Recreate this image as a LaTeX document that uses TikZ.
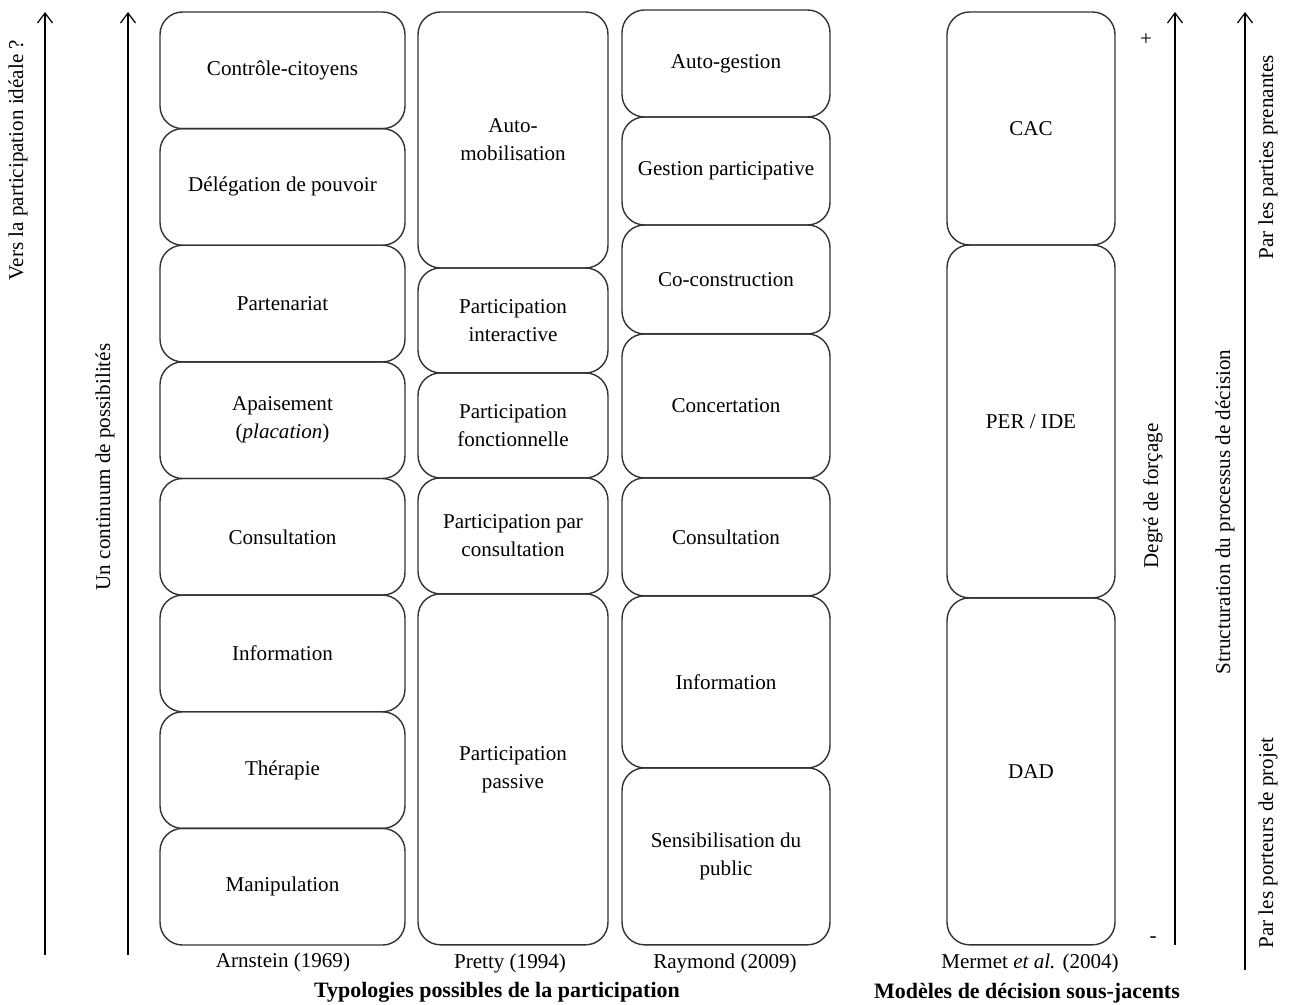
\documentclass[tikz,border=0pt]{standalone}
\usepackage{fontspec}
\setmainfont{Liberation Serif}
\usepackage{tikz}
\usetikzlibrary{arrows.meta,positioning}

\begin{document}
\begin{tikzpicture}[
    x=0.02cm, y=-0.02cm,
    node distance=0pt,
    box/.style={draw=black!80,line width=0.8pt,rounded corners=4.5mm,align=center,outer sep=0pt,font=\fontsize{12}{16}\selectfont,inner sep=2pt},
    arn/.style={box,minimum width=4.9cm,minimum height=2.333cm},
    pre/.style={box,minimum width=3.8cm},
    ray/.style={box,minimum width=4.16cm},
    mer/.style={box,minimum width=3.36cm},
    arr/.style={-{Straight Barb[length=2mm,width=3mm]},line width=0.7pt},
    lbl/.style={font=\fontsize{12}{14}\selectfont},
    ttl/.style={font=\bfseries\fontsize{12.5}{14}\selectfont}
]
\useasboundingbox (0,0) rectangle (1293,1004);

% Arnstein (1969)
\node[arn,anchor=north] (arn1) at (282.5,12) {Contrôle-citoyens};
\node[arn,below=of arn1] (arn2) {Délégation de pouvoir};
\node[arn,below=of arn2] (arn3) {Partenariat};
\node[arn,below=of arn3] (arn4) {Apaisement\\(\textit{placation})};
\node[arn,below=of arn4] (arn5) {Consultation};
\node[arn,below=of arn5] (arn6) {Information};
\node[arn,below=of arn6] (arn7) {Thérapie};
\node[arn,below=of arn7] (arn8) {Manipulation};

% Pretty (1994)
\node[pre,minimum height=5.12cm,anchor=north] (pre1) at (513,12) {Auto-\\mobilisation};
\node[pre,minimum height=2.1cm,below=of pre1] (pre2) {Participation\\interactive};
\node[pre,minimum height=2.1cm,below=of pre2] (pre3) {Participation\\fonctionnelle};
\node[pre,minimum height=2.32cm,below=of pre3] (pre4) {Participation par\\consultation};
\node[pre,minimum height=7.02cm,below=of pre4] (pre5) {Participation\\passive};

% Raymond (2009)
\node[ray,minimum height=2.14cm,anchor=north] (ray1) at (726,10) {Auto-gestion};
\node[ray,minimum height=2.16cm,below=of ray1] (ray2) {Gestion participative};
\node[ray,minimum height=2.18cm,below=of ray2] (ray3) {Co-construction};
\node[ray,minimum height=2.88cm,below=of ray3] (ray4) {Concertation};
\node[ray,minimum height=2.36cm,below=of ray4] (ray5) {Consultation};
\node[ray,minimum height=3.44cm,below=of ray5] (ray6) {Information};
\node[ray,minimum height=3.54cm,below=of ray6] (ray7) {Sensibilisation du\\public};

% Mermet et al. (2004)
\node[mer,minimum height=4.66cm,anchor=north] (mer1) at (1031,12) {CAC};
\node[mer,minimum height=7.06cm,below=of mer1] (mer2) {PER / IDE};
\node[mer,minimum height=6.94cm,below=of mer2] (mer3) {DAD};

% axes
\coordinate (versB) at (45,955);  \coordinate (versT) at (45,12);
\coordinate (contB) at (128,955); \coordinate (contT) at (128,12);
\coordinate (forcB) at (1175,945); \coordinate (forcT) at (1175,12);
\coordinate (strB) at (1245,970); \coordinate (strT) at (1245,12);
\draw[arr] (versB) -- (versT);
\draw[arr] (contB) -- (contT);
\draw[arr] (forcB) -- (forcT);
\draw[arr] (strB) -- (strT);

\node[lbl,rotate=90] (vers) at (18,160) {Vers la participation idéale ?};
\node[lbl,rotate=90] (cont) at (105,467) {Un continuum de possibilités};
\node[lbl,rotate=90] (forc) at (1153,496) {Degré de forçage};
\node[lbl,rotate=90] (struc) at (1225,512) {Structuration du processus de décision};
\node[lbl,rotate=90] (parpp) at (1268,157) {Par les parties prenantes};
\node[lbl,rotate=90] (parpo) at (1268,843) {Par les porteurs de projet};
\node[lbl] (plus) at (1146,40) {+};
\node[lbl] (moins) at (1153,940) {-};

% sources
\node[lbl] (srcA) at (283,962) {Arnstein (1969)};
\node[lbl] (srcP) at (510,963) {Pretty (1994)};
\node[lbl] (srcR) at (725,963) {Raymond (2009)};
\node[lbl] (srcM) at (1030,963) {Mermet \textit{et al.} (2004)};
\node[ttl] (typo) at (497,992) {Typologies possibles de la participation};
\node[ttl] (mod) at (1027,993) {Modèles de décision sous-jacents};
\end{tikzpicture}
\end{document}
